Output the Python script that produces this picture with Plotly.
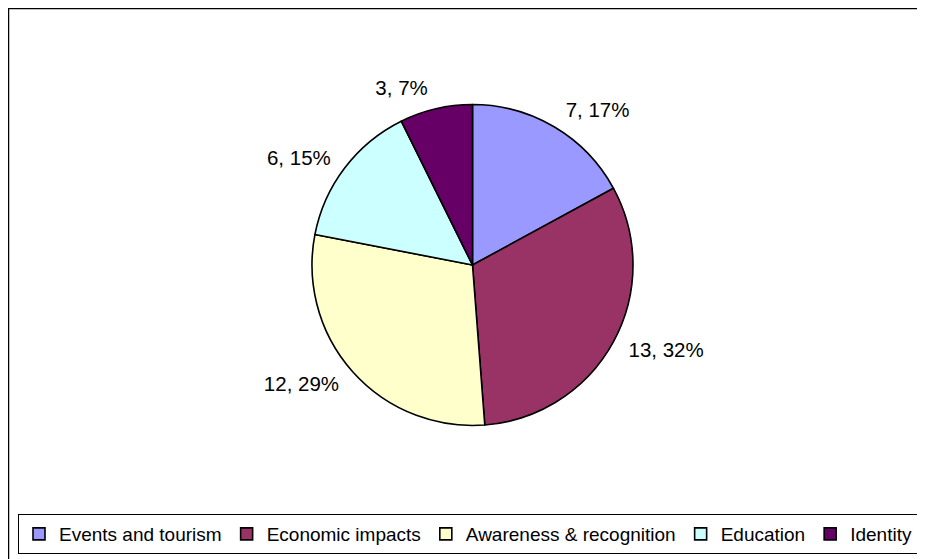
import plotly.graph_objects as go

categories = ["Events and tourism", "Economic impacts", "Awareness & recognition", "Education", "Identity"]
values = [7, 13, 12, 6, 3]
colors = ["#9999FF", "#993366", "#FFFFCC", "#CCFFFF", "#660066"]

# page body has an 8px margin; size the figure so it fits the 925x559 window
OFF = 8
W, H = 925 - OFF, 559 - OFF
FONT = "Liberation Sans, Arial, sans-serif"

def px_x(x):
    return (x - OFF) / W

def px_y(y):
    return (H - (y - OFF)) / H

CX, CY, R = 472.5, 265, 160.5
RL = 171  # radius of the label ring

fig = go.Figure()
fig.add_trace(go.Pie(
    labels=categories,
    values=values,
    sort=False,
    direction="clockwise",
    rotation=0,
    marker=dict(colors=colors, line=dict(color="black", width=1.6)),
    textinfo="none",
    domain=dict(x=[px_x(CX - R), px_x(CX + R)], y=[px_y(CY + R), px_y(CY - R)]),
    showlegend=True,
))
# transparent ring carrying the outside data labels
fig.add_trace(go.Pie(
    labels=categories,
    values=values,
    sort=False,
    direction="clockwise",
    rotation=0,
    marker=dict(colors=["rgba(0,0,0,0)"] * len(values), line=dict(width=0)),
    texttemplate="%{value}, %{percent:.0%}",
    textposition="outside",
    textfont=dict(family=FONT, size=20.5, color="black"),
    domain=dict(x=[px_x(CX - RL), px_x(CX + RL)], y=[px_y(CY + RL), px_y(CY - RL)]),
    showlegend=False,
    hoverinfo="skip",
))

fig.update_layout(
    width=W, height=H,
    margin=dict(l=0, r=0, t=0, b=0),
    paper_bgcolor="white",
    plot_bgcolor="white",
    font=dict(family=FONT, size=20, color="black"),
    legend=dict(
        orientation="h",
        x=px_x(468), xanchor="center",
        y=px_y(554), yanchor="bottom",
        bordercolor="black", borderwidth=1,
        itemwidth=30,
        font=dict(size=19),
        traceorder="normal",
    ),
    shapes=[
        dict(type="rect", xref="paper", yref="paper",
             x0=px_x(8.5), y0=px_y(580), x1=px_x(940), y1=px_y(8.5),
             line=dict(color="black", width=1.5), fillcolor="rgba(0,0,0,0)", layer="below"),
    ],
)

fig.write_html("out.html")
